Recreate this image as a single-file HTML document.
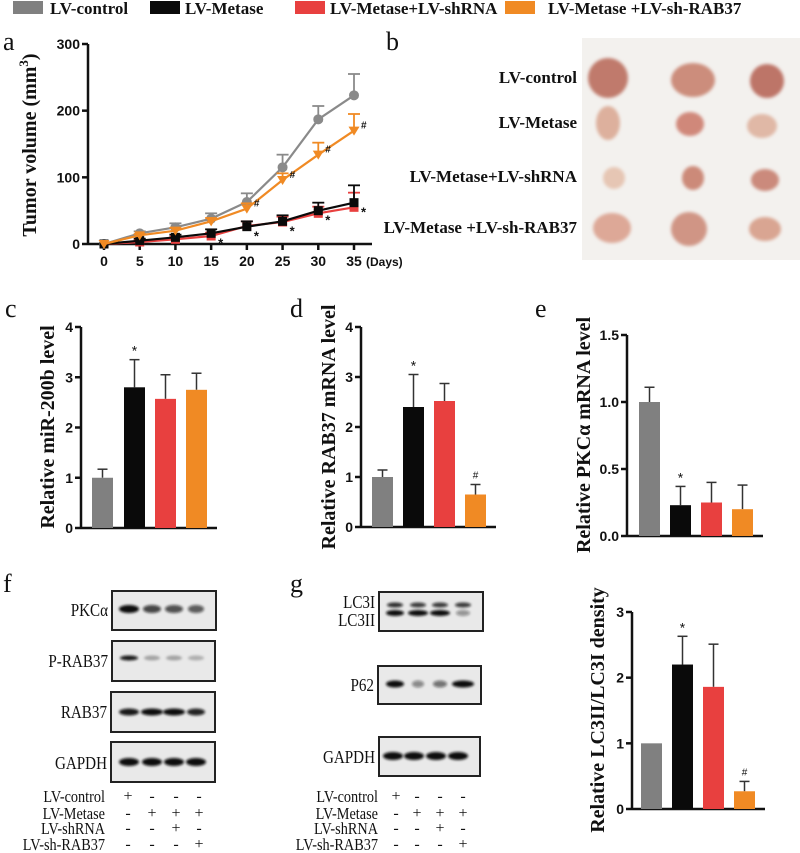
<!DOCTYPE html>
<html><head><meta charset="utf-8"><style>
html,body{margin:0;padding:0;background:#fff;}
svg{display:block;}
.tk{font-family:"Liberation Sans",sans-serif;font-weight:bold;font-size:14px;fill:#111;}
.ttl{font-family:"Liberation Serif",serif;font-weight:bold;font-size:20px;fill:#111;}
.lab{font-family:"Liberation Serif",serif;font-size:26px;fill:#111;}
.bl{font-family:"Liberation Serif",serif;font-size:16px;fill:#111;}
.leg{font-family:"Liberation Serif",serif;font-weight:bold;font-size:17px;fill:#111;}
</style></head><body>
<svg id="fig" width="800" height="853" viewBox="0 0 800 853" xmlns="http://www.w3.org/2000/svg">
<defs>
<filter id="blur1" x="-30%" y="-100%" width="160%" height="300%"><feGaussianBlur stdDeviation="1.2"/></filter>
<filter id="blur2"><feGaussianBlur stdDeviation="1.5"/></filter>
</defs>
</svg>
<script>
// ---- Panel a data ----
const days=[0,5,10,15,20,25,30,35];
const ctrlVol=[0,16,25,38,63,115,187,223];
const ctrlErr=[0,3,6,8,13,19,20,32];
const metVol=[0,5,10,16,26,34,50,62];
const metErr=[0,3,4,6,8,9,12,26];
const shVol=[0,3,7,12,27,33,46,55];
const shErr=[0,3,4,5,7,8,10,22];
const rabVol=[0,13,20,34,53,96,134,170];
const rabErr=[0,2,4,5,8,10,18,25];
const aYTicks=[0,100,200,300];
// ---- Bar chart data ----
const groups=['LV-control','LV-Metase','LV-Metase+LV-shRNA','LV-Metase +LV-sh-RAB37'];
const colors=['#808080','#0a0a0a','#e8403f','#f08a24'];
const cVals=[1.0,2.8,2.57,2.75];
const cErrs=[0.17,0.55,0.48,0.33];
const cTicks=[0,1,2,3,4];
const dVals=[1.0,2.4,2.52,0.65];
const dErrs=[0.14,0.65,0.35,0.2];
const dTicks=[0,1,2,3,4];
const eVals=[1.0,0.23,0.25,0.2];
const eErrs=[0.11,0.14,0.15,0.18];
const eTicks=[0,0.5,1.0,1.5];
const hVals=[1.0,2.2,1.86,0.27];
const hErrs=[0,0.43,0.65,0.15];
const hTicks=[0,1,2,3];

const S='http://www.w3.org/2000/svg';
const svg=document.getElementById('fig');
function mk(tag,attrs,parent){const e=document.createElementNS(S,tag);for(const k in attrs)e.setAttribute(k,attrs[k]);(parent||svg).appendChild(e);return e;}
function txt(x,y,s,cls,anchor,parent){const t=mk('text',{x:x,y:y,class:cls,'text-anchor':anchor||'start'},parent);t.textContent=s;return t;}
function ctxt(x,y,s,size,parent){const t=mk('text',{x:0,y:0,class:'bl','text-anchor':'end',transform:'translate('+x+','+y+') scale(0.84,1)'},parent);t.setAttribute('style','font-size:'+size+'px');t.textContent=s;return t;}

// Legend
const legX=[13,150,295,505];
const legTX=[50,185,330,548];
for(let i=0;i<4;i++){
  const r=mk('rect',{x:legX[i],y:1,width:30,height:13,fill:colors[i]});
  
  
  const t=txt(legTX[i],14,groups[i],'leg');
  
  
}

// Panel labels
const pl=[['a',3,50],['b',386,50],['c',5,317],['d',290,317],['e',535,317],['f',3,592],['g',290,592]];
pl.forEach(p=>{const t=txt(p[1],p[2],p[0],'lab');});

// ---- Panel a ----
const ax={x0:104,x1:354,y0:244,y1:44,left:88,right:372};
function aX(d){return ax.x0+(d-days[0])/(35-0)*(ax.x1-ax.x0);}
function aY(v){return ax.y0-(v/300)*(ax.y0-ax.y1);}
const ga=mk('g',{});


const yax=mk('line',{x1:ax.left,y1:ax.y1,x2:ax.left,y2:ax.y0,stroke:'#111','stroke-width':2.5},ga);


const xax=mk('line',{x1:ax.left,y1:ax.y0,x2:ax.right,y2:ax.y0,stroke:'#111','stroke-width':2.5},ga);


aYTicks.forEach(v=>{mk('line',{x1:ax.left-6,x2:ax.left,y1:aY(v),y2:aY(v),stroke:'#111','stroke-width':2.5},ga);const t=txt(ax.left-8,aY(v)+5,String(v),'tk','end',ga);});
days.forEach(d=>{mk('line',{x1:aX(d),x2:aX(d),y1:ax.y0,y2:ax.y0+6,stroke:'#111','stroke-width':2.5},ga);const t=txt(aX(d),ax.y0+22,String(d),'tk','middle',ga);});
const dl=txt(aX(35)+12,ax.y0+22,'(Days)','tk','start',ga);dl.setAttribute('style','font-size:12px');


const at=mk('text',{x:0,y:0,class:'ttl',transform:'translate(36,145) rotate(-90)','text-anchor':'middle'},ga);
at.innerHTML='Tumor volume (mm<tspan dy="-8" font-size="13">3</tspan><tspan dy="8">)</tspan>';



function series(vals,errs,col,marker,name,mark){
  const g=mk('g',{},ga);
  
  
  vals.forEach((v,i)=>{if(errs[i]>0){mk('line',{x1:aX(days[i]),x2:aX(days[i]),y1:aY(v),y2:aY(v+errs[i]),stroke:col,'stroke-width':1.8},g);mk('line',{x1:aX(days[i])-6,x2:aX(days[i])+6,y1:aY(v+errs[i]),y2:aY(v+errs[i]),stroke:col,'stroke-width':1.8},g);}});
  mk('polyline',{points:vals.map((v,i)=>aX(days[i])+','+aY(v)).join(' '),fill:'none',stroke:col,'stroke-width':2.2},g);
  vals.forEach((v,i)=>{const x=aX(days[i]),y=aY(v);let m;
    if(marker==='circle')m=mk('circle',{cx:x,cy:y,r:5,fill:col},g);
    else if(marker==='square')m=mk('rect',{x:x-4.5,y:y-4.5,width:9,height:9,fill:col},g);
    else m=mk('polygon',{points:(x-5.5)+','+(y-4)+' '+(x+5.5)+','+(y-4)+' '+x+','+(y+5),fill:col},g);
    
    
  });
  if(mark){vals.forEach((v,i)=>{if(i>=mark.from){const t=txt(aX(days[i])+7,aY(v)+mark.dy,mark.s,'tk','start',g);t.setAttribute('style','font-size:'+(mark.s==='#'?'10px':'13px'));}});}
}
series(ctrlVol,ctrlErr,'#8a8a8a','circle','series-lv-control',null);
series(shVol,shErr,'#e8403f','square','series-lv-metase-shrna',null);
series(metVol,metErr,'#0a0a0a','square','series-lv-metase',{from:3,s:'*',dy:14});
series(rabVol,rabErr,'#f08a24','tri','series-lv-metase-shrab37',{from:4,s:'#',dy:-2});

// ---- Panel b (photo) ----
const gb=mk('g',{});


mk('rect',{x:582,y:38,width:218,height:222,fill:'#f3f1ee'},gb);
const bLabels=[['LV-control',78],['LV-Metase',123],['LV-Metase+LV-shRNA',177],['LV-Metase +LV-sh-RAB37',228]];
bLabels.forEach(b=>{const t=txt(577,b[1]+5,b[0],'leg','end',gb);});
const tumors=[[608,78,20,20,'#c07a6c'],[693,80,22,17,'#cc8d7c'],[767,81,17,17,'#bd7467'],
[608,123,12,17,'#ddb09d'],[690,124,14,12,'#d0887a'],[762,126,15,12,'#e0b8a6'],
[614,178,11,11,'#e6c6b4'],[693,178,11,12,'#cc8a79'],[765,180,14,11,'#cb8a7b'],
[612,228,19,15,'#dda897'],[689,229,18,17,'#d09585'],[765,229,16,12,'#d9a592']];
tumors.forEach(t=>{const e=mk('ellipse',{cx:t[0],cy:t[1],rx:t[2],ry:t[3],fill:t[4],filter:'url(#blur2)'},gb);});

// ---- Bar charts ----
function barChart(cfg,vals,errs,ticks,name){
  const g=mk('g',{});
  
  
  const Y=v=>cfg.y0-(v/cfg.max)*(cfg.y0-cfg.yTop);
  const ya=mk('line',{x1:cfg.ax,x2:cfg.ax,y1:cfg.yTop,y2:cfg.y0,stroke:'#111','stroke-width':2.5},g);
  
  
  const xa=mk('line',{x1:cfg.ax,x2:cfg.end,y1:cfg.y0,y2:cfg.y0,stroke:'#111','stroke-width':2.5},g);
  
  
  ticks.forEach(v=>{mk('line',{x1:cfg.ax-6,x2:cfg.ax,y1:Y(v),y2:Y(v),stroke:'#111','stroke-width':2.5},g);const t=txt(cfg.ax-8,Y(v)+5,cfg.dec?v.toFixed(1):String(v),'tk','end',g);});
  vals.forEach((v,i)=>{
    const x=cfg.bx[i],w=21;
    if(errs[i]>0){mk('line',{x1:x+w/2,x2:x+w/2,y1:Y(v),y2:Y(v+errs[i]),stroke:'#333','stroke-width':1.5},g);mk('line',{x1:x+w/2-5,x2:x+w/2+5,y1:Y(v+errs[i]),y2:Y(v+errs[i]),stroke:'#333','stroke-width':1.5},g);}
    const r=mk('rect',{x:x,y:Y(v),width:w,height:cfg.y0-Y(v),fill:colors[i]},g);
    
    
    if(cfg.marks&&cfg.marks[i]){const t=txt(x+w/2,Y(v+errs[i])-(cfg.marks[i]==='*'?4:6),cfg.marks[i],'tk','middle',g);t.setAttribute('style','font-size:'+(cfg.marks[i]==='*'?'14px':'10px')+';font-weight:normal');}
  });
  const t=mk('text',{x:0,y:0,class:'ttl',transform:'translate('+cfg.tx+','+cfg.ty+') rotate(-90)','text-anchor':'middle'},g);
  t.textContent=cfg.title;
  
  
}
barChart({ax:81,end:217,y0:528,yTop:327,max:4,bx:[92,124,155,186],marks:['','*','',''],tx:54,ty:427,title:'Relative miR-200b level'},cVals,cErrs,cTicks,'mir200b-bar-chart');
barChart({ax:361,end:496,y0:527,yTop:327,max:4,bx:[372,403,434,465],marks:['','*','','#'],tx:335,ty:427,title:'Relative RAB37 mRNA level'},dVals,dErrs,dTicks,'rab37-bar-chart');
barChart({ax:627,end:763,y0:536,yTop:335,max:1.5,dec:true,bx:[639,670,701,732],marks:['','*','',''],tx:590,ty:435,title:'Relative PKCα mRNA level'},eVals,eErrs,eTicks,'pkca-bar-chart');
barChart({ax:632,end:765,y0:809,yTop:612,max:3,bx:[641,672,703,734],marks:['','*','','#'],tx:604,ty:710,title:'Relative LC3II/LC3I  density'},hVals,hErrs,hTicks,'lc3-bar-chart');

// ---- Western blots ----
function blot(x,y,w,h,label,lanes,bands,name,labelYs){
  const g=mk('g',{});
  
  
  mk('rect',{x:x,y:y,width:w,height:h,fill:'#e9e9e9',stroke:'#222','stroke-width':2},g);
  bands.forEach(b=>{lanes.forEach((lx,i)=>{if(b.int[i]>0){mk('ellipse',{cx:lx,cy:b.y,rx:b.rx[i]||9,ry:b.ry,fill:'#111','fill-opacity':b.int[i],filter:'url(#blur1)'},g);}});});
  label.forEach((l,i)=>{const t=ctxt(x-4,labelYs[i],l,18,g);});
}
const fl=[129,152,174,196];
blot(112,591,104,39,['PKCα'],fl,[{y:609,ry:4,int:[1,0.75,0.7,0.65],rx:[10,9,9,8]}],'blot-pkca',[616]);
blot(112,641,103,40,['P-RAB37'],fl,[{y:658,ry:2.5,int:[0.95,0.3,0.3,0.25],rx:[9,8,8,8]}],'blot-p-rab37',[667]);
blot(111,692,104,40,['RAB37'],fl,[{y:712,ry:3.5,int:[0.95,1,1,0.9],rx:[10,11,11,9]}],'blot-rab37',[718]);
blot(111,742,104,40,['GAPDH'],fl,[{y:762,ry:4,int:[1,1,1,1],rx:[10,10,10,10]}],'blot-gapdh',[769]);
const gl=[395,418,440,463];
blot(379,592,104,39,['LC3I','LC3II'],gl,[{y:605,ry:2.5,int:[0.85,0.8,0.8,0.8],rx:[8,8,8,8]},{y:613,ry:3,int:[1,1,1,0.4],rx:[9,10,10,7]}],'blot-lc3',[608,626]);
blot(378,666,103,38,['P62'],gl,[{y:684,ry:3.5,int:[1,0.45,0.55,1],rx:[9,6,7,11]}],'blot-p62',[691]);
blot(379,737,101,39,['GAPDH'],[393,414,436,458],[{y:756,ry:4,int:[1,1,1,1],rx:[10,10,10,10]}],'blot-gapdh-g',[763]);

// Treatment tables
const rows=['LV-control','LV-Metase','LV-shRNA','LV-sh-RAB37'];
const rowY=[802,819,834,850];
const signs=[['+','-','-','-'],['-','+','+','+'],['-','-','+','-'],['-','-','-','+']];
function table(rx,cols,name){
  const g=mk('g',{});
  
  
  rows.forEach((r,i)=>{const t=ctxt(rx,rowY[i],r,17,g);
    cols.forEach((cx,j)=>{txt(cx,rowY[i]-1,signs[i][j],'bl','middle',g);});});
}
table(105,[128,152,176,199],'treatment-table-f');
table(378,[396,417,440,463],'treatment-table-g');
</script>
</body></html>
